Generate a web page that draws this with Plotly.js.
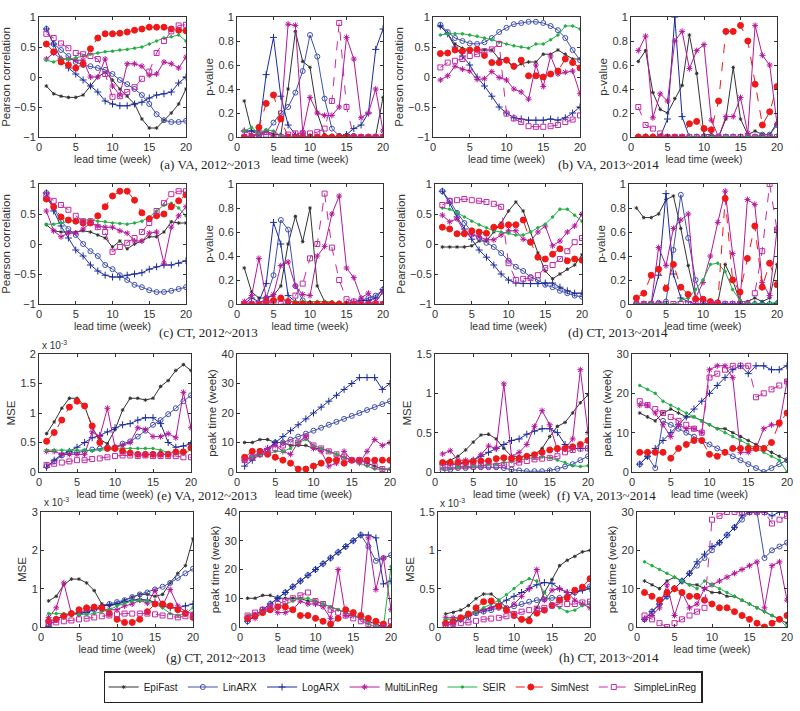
<!DOCTYPE html>
<html>
<head>
<meta charset="utf-8">
<script src="https://cdn.plot.ly/plotly-3.0.1.min.js"></script>
<style>html,body{margin:0;padding:0;background:#fff;}#chart{width:800px;height:711px;}</style>
</head>
<body>
<div id="chart"></div>
<script>
const weeks = [1,2,3,4,5,6,7,8,9,10,11,12,13,14,15,16,17,18,19,20];
const methods = ['EpiFast','LinARX','LogARX','MultiLinReg','SEIR','SimNest','SimpleLinReg'];
const captions = ['(a) VA, 2012~2013','(b) VA, 2013~2014','(c) CT, 2012~2013','(d) CT, 2013~2014','(e) VA, 2012~2013','(f) VA, 2013~2014','(g) CT, 2012~2013','(h) CT, 2013~2014'];

// (a) VA 2012~2013 Pearson correlation
const aCor_EpiFast = [-0.15,-0.28,-0.32,-0.34,-0.34,-0.3,-0.15,0.0,0.08,-0.05,-0.2,-0.32,-0.45,-0.7,-0.85,-0.85,-0.72,-0.6,-0.45,-0.2];
const aCor_LinARX = [0.8,0.55,0.45,0.35,0.25,0.2,0.18,0.15,0.12,0.05,-0.05,-0.12,-0.2,-0.3,-0.45,-0.62,-0.72,-0.75,-0.75,-0.73];
const aCor_LogARX = [0.8,0.55,0.3,0.15,0.05,-0.05,-0.15,-0.25,-0.4,-0.45,-0.48,-0.48,-0.45,-0.42,-0.35,-0.3,-0.28,-0.25,-0.1,0.0];
const aCor_MultiLinReg = [0.3,0.4,0.3,0.3,0.28,0.28,0.0,0.0,0.3,-0.15,-0.3,0.22,0.22,0.18,0.03,0.05,0.25,0.22,0.15,0.33];
const aCor_SEIR = [0.28,0.25,0.3,0.3,0.32,0.35,0.38,0.4,0.42,0.43,0.45,0.46,0.48,0.5,0.55,0.6,0.65,0.67,0.7,0.6];
const aCor_SimNest = [0.55,0.42,0.25,0.2,0.15,0.22,0.47,0.65,0.72,0.72,0.73,0.75,0.78,0.8,0.83,0.83,0.83,0.8,0.78,0.77];
const aCor_SimpleLinReg = [0.72,0.65,0.56,0.48,0.4,0.38,0.35,0.3,0.05,-0.33,-0.32,-0.25,-0.17,-0.03,0.09,0.4,0.6,0.76,0.86,0.87];
// (a) p-value
const aPv_EpiFast = [0.3,0.05,0.02,0.05,0.02,0.02,0.4,0.88,0.63,0.58,0.2,0.02,0,0,0,0,0,0,0.01,0.33];
const aPv_LinARX = [0,0,0.02,0.04,0.12,0.2,0.25,0.37,0.55,0.85,0.67,0.32,0.07,0.01,0.01,0.01,0,0,0,0];
const aPv_LogARX = [0.05,0.05,0.05,0.52,0.83,0.34,0.1,0.02,0,0,0,0,0,0,0.02,0.07,0.1,0.2,0.73,0.9];
const aPv_MultiLinReg = [0.05,0.02,0.02,0.05,0,0.15,0.94,0.93,0.04,0.33,0.2,0.18,0.18,0.25,0.83,0.65,0.16,0.2,0.4,0.05];
const aPv_SEIR = [0.05,0.08,0.03,0.06,0.05,0.01,0,0,0,0,0,0,0,0,0,0,0,0,0,0];
const aPv_SimNest = [0,0,0.08,0.28,0.35,0.15,0,0,0,0,0,0,0,0,0,0,0,0,0,0];
const aPv_SimpleLinReg = [0,0,0.02,0.02,0.02,0,0.02,0.03,0.03,0.03,0.04,0.07,0.3,0.95,0.25,0,0,0,0,0];

// (b) VA 2013~2014 Pearson correlation
const bCor_EpiFast = [0.85,0.72,0.55,0.48,0.45,0.45,0.45,0.45,0.3,0.28,0.15,0.22,0.25,0.25,0.38,0.38,0.45,0.38,0.3,0.3];
const bCor_LinARX = [0.87,0.75,0.65,0.6,0.56,0.55,0.58,0.65,0.75,0.82,0.88,0.9,0.92,0.92,0.9,0.85,0.78,0.65,0.45,0.28];
const bCor_LogARX = [0.85,0.72,0.5,0.35,0.2,0.0,-0.15,-0.32,-0.5,-0.6,-0.68,-0.7,-0.72,-0.72,-0.72,-0.7,-0.72,-0.68,-0.6,-0.5];
const bCor_MultiLinReg = [-0.05,0.02,0.18,0.13,0.1,-0.04,-0.03,0.09,-0.01,-0.05,-0.2,-0.25,-0.37,0.2,-0.16,0.35,0.05,0.08,0.1,-0.28];
const bCor_SEIR = [0.7,0.72,0.72,0.72,0.7,0.68,0.65,0.62,0.58,0.55,0.52,0.5,0.48,0.55,0.55,0.62,0.7,0.85,0.85,0.8];
const bCor_SimNest = [0.39,0.4,0.45,0.43,0.45,0.46,0.36,0.24,0.24,0.28,0.18,0.28,0.02,0.02,0.0,0.05,0.1,0.3,0.24,0.15];
const bCor_SimpleLinReg = [0.16,0.24,0.27,0.3,0.35,0.38,0.43,0.46,0.55,-0.61,-0.69,-0.75,-0.82,-0.83,-0.83,-0.82,-0.8,-0.75,-0.71,-0.64];
// (b) p-value
const bPv_EpiFast = [0.63,0.72,0.37,0.23,0.2,0.32,0.43,0.85,0.53,0.02,0.02,0.0,0.15,0.58,0.15,0.02,0.05,0.02,0.02,0.12];
const bPv_LinARX = [0,0,0,0,0,0,0,0,0,0,0,0,0,0,0,0,0,0.02,0.02,0.1];
const bPv_LogARX = [0,0,0,0,0.15,1.0,0.17,0,0,0,0,0,0,0,0,0,0,0,0,0];
const bPv_MultiLinReg = [0.72,0.84,0.16,0.36,0.3,0.8,0.88,0.57,0.72,0.77,0.14,0.0,0.17,0.17,0.33,0.03,0.93,0.68,0.6,0.11];
const bPv_SEIR = [0,0,0,0,0,0,0,0,0,0,0,0,0,0,0,0,0,0,0,0];
const bPv_SimNest = [0,0,0,0,0,0,0,0.11,0.13,0.07,0.06,0.3,0.88,0.88,0.93,0.8,0.44,0.1,0.21,0.42];
const bPv_SimpleLinReg = [0.25,0.1,0.07,0.03,0,0,0,0,0,0,0,0,0,0,0,0,0,0,0,0];

// (c) CT 2012~2013 Pearson correlation
const cCor_EpiFast = [0.32,0.22,0.2,0.2,0.2,0.22,0.2,0.15,0.1,-0.05,0.05,-0.08,0.0,0.05,0.12,0.12,0.2,0.37,0.35,0.35];
const cCor_LinARX = [0.85,0.6,0.38,0.25,0.15,0.0,-0.12,-0.2,-0.35,-0.42,-0.52,-0.6,-0.68,-0.72,-0.77,-0.8,-0.8,-0.78,-0.75,-0.72];
const cCor_LogARX = [0.85,0.55,0.3,0.1,-0.1,-0.2,-0.35,-0.45,-0.52,-0.55,-0.55,-0.52,-0.5,-0.48,-0.42,-0.38,-0.35,-0.35,-0.32,-0.28];
const cCor_MultiLinReg = [0.55,0.22,0.12,0.18,0.18,0.25,0.35,0.3,0.28,0.28,0.22,0.18,0.05,0.05,0.18,0.2,-0.32,0.28,0.47,0.62];
const cCor_SEIR = [0.33,0.33,0.35,0.37,0.4,0.4,0.4,0.38,0.37,0.35,0.34,0.33,0.35,0.38,0.45,0.55,0.65,0.68,0.6,0.47];
const cCor_SimNest = [0.75,0.62,0.45,0.4,0.38,0.35,0.35,0.47,0.62,0.8,0.88,0.88,0.73,0.52,0.42,0.47,0.5,0.62,0.72,0.82];
const cCor_SimpleLinReg = [0.82,0.72,0.65,0.57,0.47,0.38,0.38,0.28,0.2,-0.13,-0.05,0.02,0.1,0.2,0.35,0.55,0.68,0.83,0.88,0.88];
// (c) p-value
const cPv_EpiFast = [0.3,0.1,0.05,0.05,0.07,0.15,0.5,0.73,0.52,0.8,0.15,0.02,0,0,0,0,0,0,0.02,0.1];
const cPv_LinARX = [0,0,0,0.05,0.24,0.7,0.62,0.15,0.03,0,0,0,0,0,0,0,0.03,0.05,0.07,0.12];
const cPv_LogARX = [0,0.05,0.02,0.17,0.68,0.5,0.07,0.02,0,0,0,0,0,0,0,0.02,0.03,0.03,0.05,0.12];
const cPv_MultiLinReg = [0.02,0.07,0.38,0.05,0.08,0.32,0.35,0.15,0.08,0.07,0.4,0.48,0.75,0.9,0.3,0.22,0.05,0.09,0.02,0.1];
const cPv_SEIR = [0,0,0,0,0.03,0.04,0.02,0.02,0.02,0.02,0.02,0.02,0.02,0,0,0,0,0,0,0];
const cPv_SimNest = [0,0,0,0.02,0.03,0.05,0.02,0,0,0,0,0,0,0,0,0,0,0,0,0];
const cPv_SimpleLinReg = [0,0,0,0,0,0,0,0.07,0.17,0.38,0.5,0.92,0.47,0.2,0.04,0.02,0,0,0,0];

// (d) CT 2013~2014 Pearson correlation
const dCor_EpiFast = [-0.05,-0.05,-0.05,-0.05,-0.03,0.05,0.05,0.2,0.35,0.55,0.7,0.55,0.2,-0.15,-0.45,-0.58,-0.5,-0.42,-0.35,-0.18];
const dCor_LinARX = [0.88,0.72,0.52,0.35,0.2,0.1,0.02,-0.05,-0.15,-0.28,-0.38,-0.45,-0.55,-0.6,-0.68,-0.72,-0.78,-0.82,-0.86,-0.88];
const dCor_LogARX = [0.88,0.68,0.45,0.25,0.08,-0.1,-0.22,-0.35,-0.5,-0.6,-0.65,-0.66,-0.66,-0.66,-0.65,-0.65,-0.72,-0.78,-0.82,-0.82];
const dCor_MultiLinReg = [0.48,0.37,0.42,0.2,0.15,0.12,0.07,0.07,0.15,0.22,0.22,0.08,0.05,0.2,0.3,-0.03,0.05,0.2,0.3,0.5];
const dCor_SEIR = [0.6,0.58,0.52,0.45,0.38,0.32,0.27,0.22,0.2,0.18,0.15,0.15,0.2,0.27,0.33,0.45,0.58,0.58,0.48,0.38];
const dCor_SimNest = [0.28,0.25,0.17,0.17,0.22,0.2,0.18,0.28,0.3,0.32,0.32,0.4,0.03,-0.22,-0.25,-0.17,-0.08,-0.28,-0.25,-0.27];
const dCor_SimpleLinReg = [0.65,0.72,0.73,0.75,0.73,0.72,0.7,0.67,0.62,-0.32,-0.6,-0.58,-0.57,-0.52,-0.4,-0.35,-0.25,-0.12,0.03,0.1];
// (d) p-value
const dPv_EpiFast = [0.8,0.72,0.72,0.75,0.87,0.9,0.63,0.32,0.05,0.03,0.02,0.01,0.33,0.2,0.02,0.02,0.05,0.02,0.05,0.33];
const dPv_LinARX = [0,0,0,0.01,0.02,0.45,0.91,0.55,0.2,0.01,0,0,0,0,0,0,0,0,0,0];
const dPv_LogARX = [0,0,0,0.24,0.92,0.25,0.05,0.02,0,0,0,0,0,0,0,0,0,0,0,0];
const dPv_MultiLinReg = [0,0,0,0.47,0.32,0.63,0.7,0.75,0.05,0.18,0.4,0.68,0.94,0.42,0.02,0.87,0.83,0.18,0.07,0.62];
const dPv_SEIR = [0,0,0,0,0,0,0.03,0.05,0.12,0.2,0.33,0.34,0.27,0.12,0.03,0.01,0,0,0,0.02];
const dPv_SimNest = [0.05,0.09,0.24,0.29,0.13,0.33,0.14,0.08,0.04,0.04,0.02,0.01,0.88,0.2,0.1,0.38,0.65,0.14,0.34,0.16];
const dPv_SimpleLinReg = [0,0,0,0,0,0,0,0,0,0,0,0,0,0,0,0,0.09,0.44,1.0,0.62];

// (e) VA 2012~2013 MSE (x 10^-3)
const eMse_EpiFast = [0.65,0.85,1.08,1.25,1.25,1.12,0.75,0.55,0.48,0.72,1.05,1.25,1.25,1.22,1.25,1.45,1.55,1.72,1.82,1.72];
const eMse_LinARX = [0.1,0.18,0.28,0.32,0.33,0.35,0.38,0.4,0.42,0.42,0.48,0.52,0.6,0.7,0.8,0.88,0.98,1.08,1.2,1.3];
const eMse_LogARX = [0.08,0.2,0.3,0.35,0.42,0.5,0.58,0.62,0.68,0.75,0.8,0.82,0.88,0.92,0.92,0.82,0.5,0.42,0.44,0.48];
const eMse_MultiLinReg = [0.35,0.35,0.3,0.3,0.3,0.3,0.68,0.6,1.08,0.42,0.45,0.5,0.75,0.72,0.6,0.6,0.65,0.58,1.35,0.75];
const eMse_SEIR = [0.37,0.37,0.37,0.37,0.37,0.37,0.36,0.37,0.38,0.38,0.4,0.4,0.4,0.4,0.4,0.37,0.33,0.32,0.3,0.38];
const eMse_SimNest = [0.52,0.67,0.88,1.1,1.2,1.12,0.78,0.5,0.4,0.4,0.35,0.32,0.3,0.3,0.3,0.3,0.3,0.34,0.34,0.41];
const eMse_SimpleLinReg = [0.12,0.14,0.16,0.18,0.2,0.2,0.22,0.23,0.25,0.27,0.28,0.28,0.27,0.28,0.27,0.27,0.27,0.27,0.25,0.25];
// (e) peak time
const ePk_EpiFast = [10,10,11,11,10,10,9,9,9,8,8,7,6,5,4,4,3,2,1,1];
const ePk_LinARX = [4,5,6,7,10,10,11,12,13,14,15,16,17,18,19,20,21,22,23,24];
const ePk_LogARX = [2,4,6,8,10,12,14,16,18,20,22,24,26,28,30,32,32,32,28,30];
const ePk_MultiLinReg = [4,5,7,8,9,7,6,10,12,8,7,2,3,7,4,3,7,11,9,10];
const ePk_SEIR = [5,5,6,6,7,7,8,10,11,9,8,7,6,5,4,3,2,1,1,1];
const ePk_SimNest = [5,7,7,6,5,4,3,1,1,2,3,4,4,3,4,4,4,4,4,4];
const ePk_SimpleLinReg = [4,5,6,7,8,9,10,10,12,9,8,7,6,5,4,4,3,2,1,0];

// (f) VA 2013~2014 MSE (x 10^-3)
const fMse_EpiFast = [0.12,0.15,0.2,0.28,0.38,0.47,0.48,0.42,0.3,0.2,0.2,0.2,0.22,0.3,0.45,0.58,0.63,0.75,0.88,0.98];
const fMse_LinARX = [0.02,0.03,0.05,0.05,0.06,0.06,0.06,0.06,0.05,0.03,0.02,0.01,0.01,0.01,0.02,0.04,0.07,0.1,0.15,0.2];
const fMse_LogARX = [0.1,0.1,0.1,0.12,0.15,0.2,0.25,0.3,0.35,0.4,0.42,0.48,0.52,0.55,0.55,0.5,0.35,0.3,0.3,0.3];
const fMse_MultiLinReg = [0.23,0.27,0.15,0.15,0.15,0.22,0.33,0.3,1.12,0.2,0.25,0.35,0.58,0.78,0.6,0.28,0.3,0.42,1.3,0.5];
const fMse_SEIR = [0.05,0.05,0.06,0.06,0.07,0.08,0.1,0.1,0.12,0.13,0.15,0.17,0.18,0.19,0.18,0.15,0.12,0.08,0.07,0.08];
const fMse_SimNest = [0.12,0.12,0.12,0.12,0.13,0.14,0.14,0.17,0.18,0.17,0.17,0.2,0.22,0.25,0.28,0.3,0.3,0.32,0.35,0.4];
const fMse_SimpleLinReg = [0.06,0.06,0.07,0.07,0.07,0.08,0.08,0.08,0.09,0.1,0.12,0.14,0.16,0.17,0.18,0.2,0.25,0.28,0.3,0.3];
// (f) peak time
const fPk_EpiFast = [15,14,13,15,16,15,14,14,13,12,11,11,10,9,8,7,6,5,4,3];
const fPk_LinARX = [2,4,1,13,12,11,10,9,8,7,6,5,4,3,2,1,0,1,2,3];
const fPk_LogARX = [2,4,6,8,10,12,14,16,18,20,22,24,26,27,25,27,27,26,26,27];
const fPk_MultiLinReg = [17,17,15,12,9,12,11,11,10,26,27,27,24,5,5,6,11,12,12,23];
const fPk_SEIR = [22,21,20,18,17,16,15,14,13,12,11,10,9,8,7,6,5,4,3,0];
const fPk_SimNest = [5,5,5,5,3.5,6,7,8,8,4.5,4,5,6,6,6,6,6,7.5,12.5,15];
const fPk_SimpleLinReg = [18,17,16,15,14,13,12,11,10,24,25,26,27,27,27,19,20,21,22,23];

// (g) CT 2012~2013 MSE (x 10^-3)
const gMse_EpiFast = [0.68,0.8,1.1,1.25,1.25,1.15,0.95,0.6,0.55,0.6,0.7,0.78,0.85,0.85,0.8,0.85,1.15,1.4,1.6,2.3];
const gMse_LinARX = [0.05,0.2,0.3,0.35,0.35,0.4,0.45,0.52,0.6,0.65,0.7,0.78,0.85,0.9,0.98,1.05,1.15,1.28,1.4,1.52];
const gMse_LogARX = [0.02,0.2,0.3,0.35,0.35,0.38,0.45,0.55,0.58,0.6,0.65,0.7,0.72,0.7,0.65,0.55,0.5,0.5,0.55,0.6];
const gMse_MultiLinReg = [0.25,0.5,1.15,0.35,0.38,0.45,0.5,0.45,0.45,0.45,0.55,0.6,0.7,0.62,0.95,0.55,0.98,0.55,0.4,0.35];
const gMse_SEIR = [0.35,0.35,0.35,0.33,0.33,0.33,0.35,0.4,0.45,0.55,0.62,0.68,0.7,0.68,0.6,0.5,0.35,0.3,0.35,0.5];
const gMse_SimNest = [0.15,0.2,0.28,0.35,0.45,0.5,0.52,0.5,0.35,0.2,0.12,0.12,0.2,0.4,0.6,0.6,0.55,0.45,0.35,0.25];
const gMse_SimpleLinReg = [0.1,0.12,0.15,0.17,0.2,0.22,0.25,0.28,0.3,0.33,0.35,0.35,0.35,0.35,0.33,0.3,0.28,0.25,0.28,0.3];
// (g) peak time
const gPk_EpiFast = [10,10,11,11,10,10,10,10,9,9,8,7,6,5,4,3,2,1,0,0];
const gPk_LinARX = [2,4,6,8,10,12,14,16,18,20,22,24,26,28,30,32,28,23,24,25];
const gPk_LogARX = [2,4,6,8,10,12,14,16,18,20,22,24,26,28,30,32,32,31,15,16];
const gPk_MultiLinReg = [3,3,5,7,5,5,6,9,8,8,7,3,20,4,4,3,31,13,24,6];
const gPk_SEIR = [4,4,5,6,7,8,9,10,10,9,8,7,6,5,4,3,1,0,0,21];
const gPk_SimNest = [3,4,5,6,7,7,6,4,4,3,2,1,3,6,5,4,3,2,1,0];
const gPk_SimpleLinReg = [4,5,6,7,8,9,10,11,12,9,8,6,5,4,3,2,1,0,0,2];

// (h) CT 2013~2014 MSE (x 10^-3)
const hMse_EpiFast = [0.17,0.19,0.22,0.28,0.37,0.43,0.43,0.35,0.25,0.15,0.08,0.12,0.25,0.45,0.62,0.8,0.87,0.92,0.98,1.0];
const hMse_LinARX = [0.02,0.05,0.1,0.13,0.18,0.2,0.22,0.25,0.25,0.27,0.3,0.33,0.35,0.36,0.38,0.38,0.4,0.45,0.5,0.53];
const hMse_LogARX = [0.05,0.08,0.1,0.15,0.2,0.22,0.25,0.3,0.35,0.4,0.45,0.5,0.55,0.58,0.57,0.5,0.45,0.45,0.48,0.5];
const hMse_MultiLinReg = [0.12,0.12,0.12,0.17,0.2,0.22,0.25,0.28,0.22,0.3,0.4,0.5,0.75,0.35,0.48,0.5,0.45,0.35,0.3,0.25];
const hMse_SEIR = [0.1,0.1,0.12,0.15,0.2,0.25,0.3,0.35,0.42,0.5,0.58,0.63,0.6,0.45,0.3,0.25,0.2,0.22,0.28,0.3];
const hMse_SimNest = [0.05,0.07,0.12,0.17,0.25,0.33,0.34,0.27,0.22,0.15,0.1,0.08,0.18,0.22,0.28,0.35,0.38,0.48,0.52,0.63];
const hMse_SimpleLinReg = [0.02,0.04,0.05,0.06,0.08,0.1,0.11,0.12,0.14,0.17,0.2,0.22,0.24,0.25,0.28,0.3,0.3,0.3,0.32,0.33];
// (h) peak time
const hPk_EpiFast = [12,11,10,12,13,12,11,11,10,9,9,8,8,7,6,5,4,3,2,1];
const hPk_LinARX = [2,4,6,8,10,12,14,16,18,20,22,24,26,28,30,30,18,20,21,22];
const hPk_LogARX = [2,4,6,8,10,12,14,17,19,21,22,24,26,29,30,30,30,29,30,30];
const hPk_MultiLinReg = [2,3,5,11,3,9,5,6,10,11,12,13,14,15,16,17,5,16,17,7];
const hPk_SEIR = [17,16,15,14,13,12,11,10,12,11,10,9,8,7,6,5,4,3,2,0];
const hPk_SimNest = [9,8,7,9,10,9,8,8,7,6,5,5,4,3,2,1,0,1,2,3];
const hPk_SimpleLinReg = [3,2,1,0,1,2,3,4,5,28,29,30,30,30,30,30,30,27,28,29];

// ---- styles ----
const styles = {
  EpiFast:      {color:'#333333', symbol:'asterisk-open', size:3, dash:'solid'},
  LinARX:       {color:'#4050b0', symbol:'circle-open', size:5, dash:'solid'},
  LogARX:       {color:'#1c2c9c', symbol:'cross-thin-open', size:5, dash:'solid'},
  MultiLinReg:  {color:'#b4189a', symbol:'asterisk-open', size:5, dash:'solid'},
  SEIR:         {color:'#22b044', symbol:'circle', size:2.5, dash:'solid'},
  SimNest:      {color:'#f01818', symbol:'circle', size:6, dash:'dash'},
  SimpleLinReg: {color:'#c42aa4', symbol:'square-open', size:5, dash:'dash'}
};

const panels = [
  {d:[aCor_EpiFast,aCor_LinARX,aCor_LogARX,aCor_MultiLinReg,aCor_SEIR,aCor_SimNest,aCor_SimpleLinReg], box:[39,186,17,137], yt:'Pearson correlation', yr:[-1,1], dt:0.5},
  {d:[aPv_EpiFast,aPv_LinARX,aPv_LogARX,aPv_MultiLinReg,aPv_SEIR,aPv_SimNest,aPv_SimpleLinReg], box:[237,383,17,137], yt:'p-value', yr:[0,1], dt:0.2},
  {d:[bCor_EpiFast,bCor_LinARX,bCor_LogARX,bCor_MultiLinReg,bCor_SEIR,bCor_SimNest,bCor_SimpleLinReg], box:[433,580,17,137], yt:'Pearson correlation', yr:[-1,1], dt:0.5},
  {d:[bPv_EpiFast,bPv_LinARX,bPv_LogARX,bPv_MultiLinReg,bPv_SEIR,bPv_SimNest,bPv_SimpleLinReg], box:[631,777,17,137], yt:'p-value', yr:[0,1], dt:0.2},
  {d:[cCor_EpiFast,cCor_LinARX,cCor_LogARX,cCor_MultiLinReg,cCor_SEIR,cCor_SimNest,cCor_SimpleLinReg], box:[39,186,184,304], yt:'Pearson correlation', yr:[-1,1], dt:0.5},
  {d:[cPv_EpiFast,cPv_LinARX,cPv_LogARX,cPv_MultiLinReg,cPv_SEIR,cPv_SimNest,cPv_SimpleLinReg], box:[237,383,184,304], yt:'p-value', yr:[0,1], dt:0.2},
  {d:[dCor_EpiFast,dCor_LinARX,dCor_LogARX,dCor_MultiLinReg,dCor_SEIR,dCor_SimNest,dCor_SimpleLinReg], box:[435,582,184,304], yt:'Pearson correlation', yr:[-1,1], dt:0.5},
  {d:[dPv_EpiFast,dPv_LinARX,dPv_LogARX,dPv_MultiLinReg,dPv_SEIR,dPv_SimNest,dPv_SimpleLinReg], box:[629,777,184,304], yt:'p-value', yr:[0,1], dt:0.2},
  {d:[eMse_EpiFast,eMse_LinARX,eMse_LogARX,eMse_MultiLinReg,eMse_SEIR,eMse_SimNest,eMse_SimpleLinReg], box:[39,191,354,472], yt:'MSE', yr:[0,2], dt:0.5},
  {d:[ePk_EpiFast,ePk_LinARX,ePk_LogARX,ePk_MultiLinReg,ePk_SEIR,ePk_SimNest,ePk_SimpleLinReg], box:[237,390,354,472], yt:'peak time (week)', yr:[0,40], dt:10},
  {d:[fMse_EpiFast,fMse_LinARX,fMse_LogARX,fMse_MultiLinReg,fMse_SEIR,fMse_SimNest,fMse_SimpleLinReg], box:[435,588,354,472], yt:'MSE', yr:[0,1.5], dt:0.5},
  {d:[fPk_EpiFast,fPk_LinARX,fPk_LogARX,fPk_MultiLinReg,fPk_SEIR,fPk_SimNest,fPk_SimpleLinReg], box:[632,787,354,472], yt:'peak time (week)', yr:[0,30], dt:10},
  {d:[gMse_EpiFast,gMse_LinARX,gMse_LogARX,gMse_MultiLinReg,gMse_SEIR,gMse_SimNest,gMse_SimpleLinReg], box:[41,193,512,627], yt:'MSE', yr:[0,3], dt:1},
  {d:[gPk_EpiFast,gPk_LinARX,gPk_LogARX,gPk_MultiLinReg,gPk_SEIR,gPk_SimNest,gPk_SimpleLinReg], box:[240,391,512,627], yt:'peak time (week)', yr:[0,40], dt:10},
  {d:[hMse_EpiFast,hMse_LinARX,hMse_LogARX,hMse_MultiLinReg,hMse_SEIR,hMse_SimNest,hMse_SimpleLinReg], box:[438,590,512,627], yt:'MSE', yr:[0,1.5], dt:0.5},
  {d:[hPk_EpiFast,hPk_LinARX,hPk_LogARX,hPk_MultiLinReg,hPk_SEIR,hPk_SimNest,hPk_SimpleLinReg], box:[637,787,512,627], yt:'peak time (week)', yr:[0,30], dt:10}
];

const W = 800, H = 711;
const FONT = 'Liberation Sans, Arial, sans-serif';
const traces = [];
const layout = {
  width: W, height: H,
  margin: {l:0, r:0, t:0, b:0},
  paper_bgcolor: '#fff', plot_bgcolor: '#fff',
  font: {family: FONT, size: 11, color: '#333'},
  showlegend: true,
  legend: {orientation:'h', x:0.504, xanchor:'center', y:(H-671)/H, yanchor:'top',
           bordercolor:'#222', borderwidth:1.5, bgcolor:'#fff',
           font:{family:FONT, size:10, color:'#222'}, tracegroupgap:0, itemwidth:30},
  annotations: []
};

panels.forEach((p, i) => {
  const n = i + 1;
  const sfx = (n === 1 ? '' : String(n));
  const [l, r, t, b] = p.box;
  const axCommon = {showline:true, linecolor:'#333', linewidth:1, mirror:'ticks', ticks:'inside',
                    ticklen:3, tickcolor:'#333', showgrid:false, zeroline:false,
                    tickfont:{family:FONT, size:11, color:'#333'}};
  layout['xaxis' + sfx] = Object.assign({}, axCommon, {domain:[l/W, r/W], range:[0,20], dtick:5, tick0:0,
                anchor:'y' + sfx, ticklabelstandoff:0,
                title:{text:'lead time (week)', font:{family:FONT, size:10.5, color:'#333'}, standoff:0}});
  layout['yaxis' + sfx] = Object.assign({}, axCommon, {domain:[1 - b/H, 1 - t/H], range:p.yr, dtick:p.dt,
                anchor:'x' + sfx,
                title:{text:p.yt, font:{family:FONT, size:11.5, color:'#333'}, standoff:2}});
  methods.forEach((m, k) => {
    const s = styles[m];
    traces.push({
      x: weeks, y: p.d[k], type:'scatter', mode:'lines+markers', name:m,
      xaxis:'x' + sfx, yaxis:'y' + sfx,
      showlegend: i === 0, legendgroup: m,
      line:{color:s.color, width:1, dash:s.dash},
      marker:{color:s.color, symbol:s.symbol, size:s.size, line:{color:s.color, width:1}}
    });
  });
});

// captions
const capPos = [[210,164],[608,164],[208,332],[618,332],[207,495],[606,495],[216,657],[609,657]];
captions.forEach((c, i) => {
  layout.annotations.push({text:c, xref:'paper', yref:'paper', x:capPos[i][0]/W, y:1 - capPos[i][1]/H,
    xanchor:'center', yanchor:'middle', showarrow:false,
    font:{family:'Liberation Serif, Times New Roman, serif', size:13, color:'#222'}});
});
// exponent labels
[[40,345],[42,502],[438,503]].forEach(pos => {
  layout.annotations.push({text:'x 10<sup>-3</sup>', xref:'paper', yref:'paper', x:pos[0]/W, y:1 - pos[1]/H,
    xanchor:'left', yanchor:'middle', showarrow:false, font:{family:FONT, size:10, color:'#333'}});
});

Plotly.newPlot('chart', traces, layout, {displayModeBar:false, staticPlot:true});
</script>
</body>
</html>
